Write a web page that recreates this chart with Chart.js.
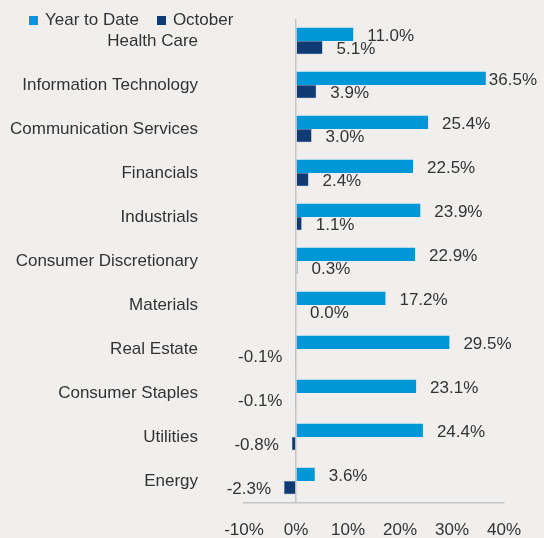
<!DOCTYPE html>
<html>
<head>
<meta charset="utf-8">
<script src="https://cdn.jsdelivr.net/npm/chart.js@4.4.1/dist/chart.umd.min.js"></script>
<style>
  html, body { margin: 0; padding: 0; background: #f0efee; }
  #wrap { position: relative; width: 544px; height: 538px; }
  #legend { position: absolute; left: 29px; top: 10px; display: flex; gap: 18px;
            font: 17px "Liberation Sans", Arial, sans-serif; color: #333; }
  #legend span.item { display: flex; align-items: center; gap: 7px; }
  #legend i { display: inline-block; width: 9px; height: 9px; }
</style>
</head>
<body>
<div id="wrap">
  <canvas id="c" width="544" height="538"></canvas>
  <div id="legend"></div>
</div>
<script>
// Сектори: доходність з початку року та за жовтень, %
const sectors = ["Health Care", "Information Technology", "Communication Services", "Financials",
                 "Industrials", "Consumer Discretionary", "Materials", "Real Estate",
                 "Consumer Staples", "Utilities", "Energy"];
const ytd     = [11.0, 36.5, 25.4, 22.5, 23.9, 22.9, 17.2, 29.5, 23.1, 24.4, 3.6];
const october = [5.1, 3.9, 3.0, 2.4, 1.1, 0.3, 0.0, -0.1, -0.1, -0.8, -2.3];
const xTicks  = [-10, 0, 10, 20, 30, 40];

const FONT = { family: "'Liberation Sans', Arial, sans-serif", size: 17 };
const TEXT = "#333333";

// Підписи значень біля кінця кожного стовпчика
const valueLabels = {
  id: "valueLabels",
  afterDatasetsDraw(chart) {
    const ctx = chart.ctx;
    ctx.save();
    ctx.font = `${FONT.size}px ${FONT.family}`;
    ctx.fillStyle = TEXT;
    ctx.textBaseline = "middle";
    ctx.textAlign = "left";
    chart.data.datasets.forEach((ds, di) => {
      chart.getDatasetMeta(di).data.forEach((bar, i) => {
        const v = ds.data[i];
        const txt = v.toFixed(1) + "%";
        const w = ctx.measureText(txt).width;
        let x;
        if (v >= 0) {
          x = bar.x + 14;
          if (x + w > chart.width - 7) x = chart.width - 7 - w;
        } else {
          x = bar.x - 13 - w;
        }
        ctx.fillText(txt, x, bar.y + 1.5);
      });
    });
    ctx.restore();
  },
};

const chart = new Chart(document.getElementById("c"), {
  type: "bar",
  data: {
    labels: sectors,
    datasets: [
      { label: "Year to Date", data: ytd, backgroundColor: "#0097d6" },
      { label: "October", data: october, backgroundColor: "#0f3a74",
        borderColor: "#3a6aa0", borderWidth: 0.5 },
    ],
  },
  options: {
    indexAxis: "y",
    responsive: false,
    animation: false,
    events: [],
    categoryPercentage: 0.6,
    barPercentage: 1.0,
    layout: { padding: { top: 19, right: 40, bottom: 0, left: 0 } },
    scales: {
      x: {
        min: -10, max: 40,
        afterBuildTicks: (s) => { s.ticks = xTicks.map(v => ({ value: v })); },
        afterFit: (s) => { s.height = 35; s.paddingLeft = 0; s.paddingRight = 0; },
        ticks: { color: TEXT, font: FONT, padding: 17, maxRotation: 0, minRotation: 0,
                 callback: v => v + "%" },
        grid: { drawTicks: false,
                color: c => (c.tick && c.tick.value === 0 ? "#c4c4c4" : "transparent"),
                lineWidth: 1.5 },
        border: { display: true, color: "#c4c4c4", width: 1.5 },
      },
      y: {
        afterFit: (s) => { s.width = 244; s.paddingTop = 0; s.paddingBottom = 0; },
        ticks: { color: TEXT, font: FONT, padding: 46, autoSkip: false },
        grid: { display: false, drawTicks: false },
        border: { display: false },
      },
    },
    plugins: {
      legend: { display: false },
      tooltip: { enabled: false },
    },
  },
  plugins: [valueLabels],
});

document.getElementById("legend").innerHTML = chart.data.datasets.map(ds =>
  `<span class="item"><i style="background:${ds.backgroundColor}"></i>${ds.label}</span>`
).join("");
</script>
</body>
</html>
